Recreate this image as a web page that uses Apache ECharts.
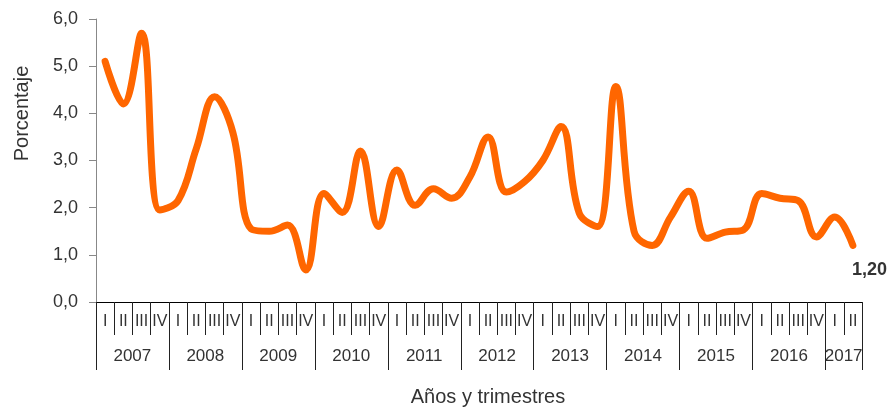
<!DOCTYPE html>
<html>
<head>
<meta charset="utf-8">
<script src="https://cdn.jsdelivr.net/npm/echarts@6/dist/echarts.min.js"></script>
<style>
  html, body { margin: 0; padding: 0; background: #fff; }
  #chart { width: 896px; height: 412px; }
</style>
</head>
<body>
<div id="chart"></div>
<script>
// años y trimestres
const years = ['2007', '2008', '2009', '2010', '2011', '2012', '2013', '2014', '2015', '2016', '2017'];
const quarters = ['I', 'II', 'III', 'IV'];
// porcentaje por trimestre, 2007-I .. 2017-II
const values = [
  5.1, 4.2, 5.7, 1.95,
  2.15, 3.25, 4.35, 3.6,
  1.55, 1.5, 1.63, 0.68,
  2.3, 1.9, 3.2, 1.6,
  2.8, 2.05, 2.4, 2.2,
  2.65, 3.5, 2.33, 2.55,
  3.0, 3.72, 1.88, 1.6,
  4.57, 1.5, 1.2, 1.8,
  2.35, 1.35, 1.48, 1.53,
  2.3, 2.2, 2.15, 1.38,
  1.8, 1.2
];
const yTicks = ['0,0', '1,0', '2,0', '3,0', '4,0', '5,0', '6,0'];

// categorías trimestrales y su año
let quarterCats = [];
let yearCats = [];
for (let i = 0; i < values.length; i++) {
  quarterCats.push(quarters[i % 4]);
  yearCats.push(years[Math.floor(i / 4)]);
}
const lastYearStart = Math.floor((values.length - 1) / 4) * 4;

const font = 'Liberation Sans, Arial, sans-serif';
const chart = echarts.init(document.getElementById('chart'));

let option = {
  animation: false,
  grid: { left: 96, right: 34, top: 19, bottom: 110 },
  xAxis: [
    {
      type: 'category',
      data: quarterCats,
      boundaryGap: true,
      axisLine: { lineStyle: { color: '#000', width: 1 } },
      axisTick: { show: true, interval: 0, length: 33, lineStyle: { color: '#222' } },
      axisLabel: { interval: 0, margin: 12, fontFamily: font, fontSize: 16, color: '#333' }
    },
    {
      type: 'category',
      data: yearCats,
      position: 'bottom',
      boundaryGap: true,
      axisLine: { show: false },
      axisTick: {
        show: true,
        length: 68,
        interval: function (index) { return index % 4 === 0; },
        lineStyle: { color: '#222' }
      },
      axisLabel: {
        interval: function (index) {
          return index % 4 === 1 && index + 1 < values.length ? true : index === lastYearStart && values.length - lastYearStart < 3;
        },
        margin: 46,
        padding: [0, 0, 0, 18],
        fontFamily: font,
        fontSize: 17,
        color: '#333'
      },
      name: 'Años y trimestres',
      nameLocation: 'middle',
      nameGap: 85,
      nameTextStyle: { fontFamily: font, fontSize: 20, color: '#333', padding: [0, 0, 0, 18] }
    }
  ],
  yAxis: {
    type: 'value',
    min: 0,
    max: 6,
    interval: 1,
    axisLine: { show: true, lineStyle: { color: '#888' } },
    axisTick: { show: true, length: 7, lineStyle: { color: '#888' } },
    splitLine: { show: false },
    axisLabel: {
      margin: 18,
      fontFamily: font,
      fontSize: 18,
      color: '#333',
      formatter: function (v) { return yTicks[Math.round(v)]; }
    },
    name: 'Porcentaje',
    nameLocation: 'middle',
    nameGap: 64,
    nameTextStyle: { fontFamily: font, fontSize: 20, color: '#333', padding: [0, 0, 0, 94] }
  },
  series: [
    {
      name: 'Porcentaje',
      type: 'line',
      data: values,
      smooth: 0.4,
      showSymbol: false,
      lineStyle: { color: '#FF6600', width: 7, cap: 'round', join: 'round' },
      itemStyle: { color: '#FF6600' },
      endLabel: {
        show: true,
        formatter: function (p) { return p.value.toFixed(2).replace('.', ','); },
        distance: 0,
        offset: [-1, 25],
        fontFamily: font,
        fontSize: 18,
        fontWeight: 'bold',
        color: '#333'
      }
    }
  ]
};

chart.setOption(option);
</script>
</body>
</html>
